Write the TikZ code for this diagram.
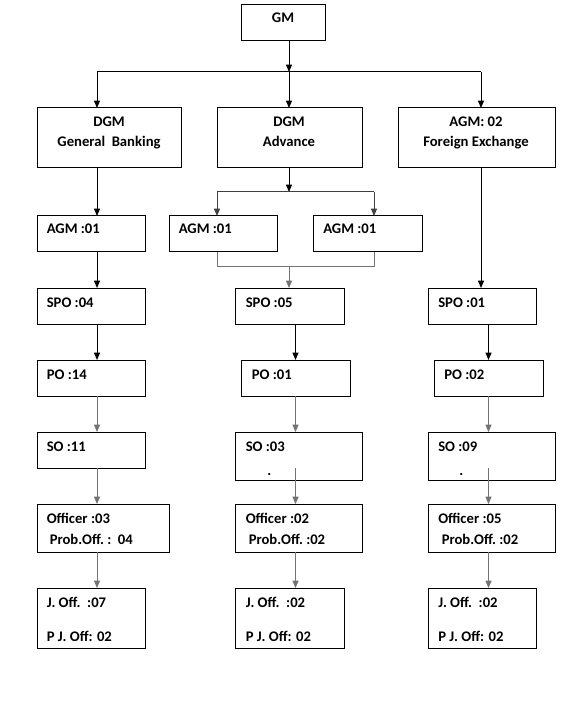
\documentclass[tikz,border=0pt]{standalone}
\usepackage{fontspec}
\setmainfont{Carlito}
\usetikzlibrary{arrows.meta}
\tikzset{
  box/.style={draw=black, line width=0.75pt, anchor=north west, inner sep=0pt, outer sep=0pt},
  lbl/.style={font=\bfseries\fontsize{11}{13}\selectfont, inner sep=0pt, anchor=base west},
  clbl/.style={font=\bfseries\fontsize{11}{13}\selectfont, inner sep=0pt, anchor=base},
  conn/.style={line width=0.75pt, draw=black},
  gconn/.style={line width=0.75pt, draw=black!55},
  dconn/.style={line width=0.75pt, draw=black!75},
  arr/.style={-{Triangle[width=4.5pt,length=5.5pt]}},
}
\newcommand\mybox[5]{\node[box, minimum width=#4*0.75pt, minimum height=#5*0.75pt] (#1) at (#2,#3) {};}
\begin{document}
\begin{tikzpicture}[x=0.75pt,y=-0.75pt]
\useasboundingbox (0,0) rectangle (568,716);
% boxes
\mybox{gm}{241}{5}{84}{36}
\mybox{dgb}{37}{108}{144}{60}
\mybox{dadv}{217}{108}{145}{60}
\mybox{dfx}{398}{108}{157}{60}
\mybox{agmA}{37}{216}{108}{36}
\mybox{agmB}{169}{216}{108}{36}
\mybox{agmC}{313}{216}{109}{36}
\mybox{spoA}{37}{288}{108}{36}
\mybox{spoB}{235}{288}{109}{36}
\mybox{spoC}{428}{288}{108}{36}
\mybox{poA}{37}{360}{108}{36}
\mybox{poB}{241}{360}{109}{36}
\mybox{poC}{434}{360}{109}{36}
\mybox{soA}{37}{432}{108}{36}
\mybox{soB}{235}{432}{127}{48}
\mybox{soC}{428}{432}{127}{48}
\mybox{ofA}{37}{504}{132}{48}
\mybox{ofB}{235}{504}{127}{48}
\mybox{ofC}{428}{504}{127}{48}
\mybox{jA}{37}{588}{108}{60}
\mybox{jB}{235}{588}{109}{60}
\mybox{jC}{428}{588}{108}{60}
% texts
\node[clbl] (tgm) at (283,23) {GM};
\node[clbl] (tdgb1) at (109,127) {DGM};
\node[clbl] (tdgb2) at (109,147) {General\ \ Banking};
\node[clbl] (tdadv1) at (289,127) {DGM};
\node[clbl] (tdadv2) at (289,147) {Advance};
\node[clbl] (tdfx1) at (476,127) {AGM: 02};
\node[clbl] (tdfx2) at (476,147) {Foreign Exchange};
\node[lbl] (tagmA) at (46.5,234) {AGM\ :01};
\node[lbl] (tagmB) at (178.5,234) {AGM\ :01};
\node[lbl] (tagmC) at (323,234) {AGM\ :01};
\node[lbl] (tspoA) at (46.5,307) {SPO\ :04};
\node[lbl] (tspoB) at (245.5,307) {SPO\ :05};
\node[lbl] (tspoC) at (438,307) {SPO\ :01};
\node[lbl] (tpoA) at (46.5,379) {PO\ :14};
\node[lbl] (tpoB) at (251.5,379) {PO\ :01};
\node[lbl] (tpoC) at (444,379) {PO\ :02};
\node[lbl] (tsoA) at (46.5,451) {SO\ :11};
\node[lbl] (tsoB) at (245.5,451) {SO\ :03};
\node[lbl] (tsoC) at (438,451) {SO\ :09};
\node[lbl] (dotB) at (267,475) {.};
\node[lbl] (dotC) at (459,475) {.};
\node[lbl] (tofA1) at (46.5,523) {Officer\ :03};
\node[lbl] (tofA2) at (49.5,544) {Prob.Off.\ :\ \ 04};
\node[lbl] (tofB1) at (245.5,523) {Officer\ :02};
\node[lbl] (tofB2) at (248.5,544) {Prob.Off.\ :02};
\node[lbl] (tofC1) at (438,523) {Officer\ :05};
\node[lbl] (tofC2) at (441.5,544) {Prob.Off.\ :02};
\node[lbl] (tjA1) at (46.5,607) {J. Off.\ \ :07};
\node[lbl] (tjA2) at (46.5,641) {P J. Off: 02};
\node[lbl] (tjB1) at (245.5,607) {J. Off.\ \ :02};
\node[lbl] (tjB2) at (245.5,641) {P J. Off: 02};
\node[lbl] (tjC1) at (438,607) {J. Off.\ \ :02};
\node[lbl] (tjC2) at (438,641) {P J. Off: 02};
% coordinates
\coordinate (busTop) at (289,72);
\coordinate (busL) at (97,72);
\coordinate (busR) at (481,72);
\coordinate (busAdv) at (289,192);
\coordinate (busMerge) at (289,267);
\coordinate (colA) at (97,0);
% GM to DGMs
\draw[conn,arr] (gm.south -| busTop) -- (busTop);
\draw[conn] (busL) -- (busR);
\draw[conn,arr] (busL) -- (busL |- dgb.north);
\draw[conn,arr] (busTop) -- (busTop |- dadv.north);
\draw[conn,arr] (busR) -- (busR |- dfx.north);
% general banking column
\draw[conn,arr] (colA |- dgb.south) -- (colA |- agmA.north);
\draw[conn,arr] (colA |- agmA.south) -- (colA |- spoA.north);
\draw[conn,arr] (colA |- spoA.south) -- (colA |- poA.north);
\draw[gconn,arr] (colA |- poA.south) -- (colA |- soA.north);
\draw[gconn,arr] (colA |- soA.south) -- (colA |- ofA.north);
\draw[gconn,arr] (colA |- ofA.south) -- (colA |- jA.north);
% advance column
\draw[conn,arr] (busAdv |- dadv.south) -- (busAdv);
\coordinate (advL) at (217,192);
\coordinate (advR) at (374,192);
\draw[dconn] (advL) -- (advR);
\draw[dconn,arr] (advL) -- (advL |- agmB.north);
\draw[dconn,arr] (advR) -- (advR |- agmC.north);
\draw[gconn] (advL |- agmB.south) -- (advL |- busMerge) -- (advR |- busMerge) -- (advR |- agmC.south);
\draw[gconn,arr] (busMerge) -- (busMerge |- spoB.north);
\draw[conn,arr] ([xshift=6*0.75pt]spoB.south) -- ([xshift=6*0.75pt]spoB.south |- poB.north);
\draw[gconn,arr] (poB.south) -- (poB.south |- soB.north);
\draw[gconn,arr] ([yshift=12*0.75pt]poB.south |- soB.south) -- (poB.south |- ofB.north);
\draw[gconn,arr] (poB.south |- ofB.south) -- (poB.south |- jB.north);
% foreign exchange column
\draw[conn,arr] (busR |- dfx.south) -- (busR |- spoC.north);
\draw[conn,arr] (poC.north |- spoC.south) -- (poC.north);
\draw[gconn,arr] (poC.south) -- (poC.south |- soC.north);
\draw[gconn,arr] ([yshift=12*0.75pt]poC.south |- soC.south) -- (poC.south |- ofC.north);
\draw[gconn,arr] (poC.south |- ofC.south) -- (poC.south |- jC.north);
\end{tikzpicture}
\end{document}
